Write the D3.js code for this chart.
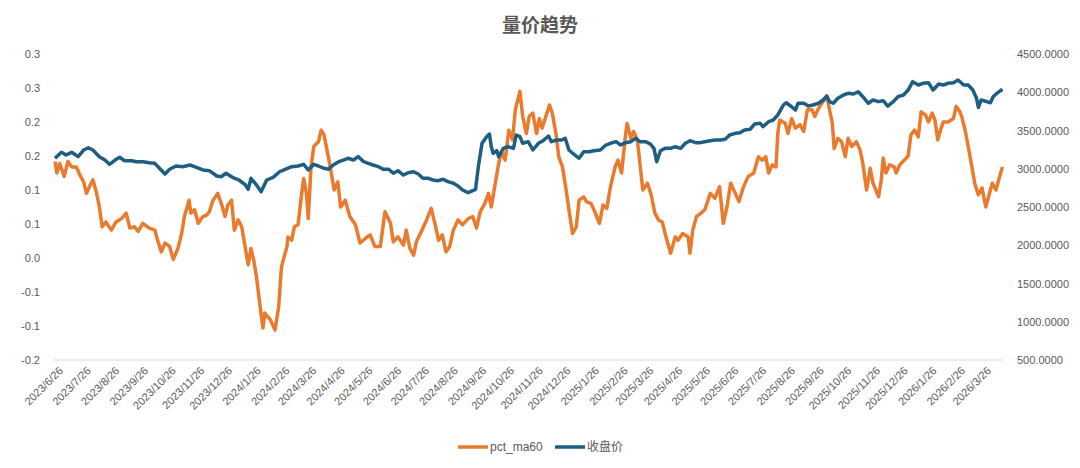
<!DOCTYPE html>
<html>
<head>
<meta charset="utf-8">
<script src="https://cdn.jsdelivr.net/npm/d3@7"></script>
<style>
  body { margin: 0; background: #fff; }
  text { font-family: "Liberation Sans", "Noto Sans CJK SC", sans-serif; fill: #595959; }
</style>
</head>
<body>
<div id="chart"></div>
<script>
// pct_ma60 (left axis)
const pctDates = [
  "2023-06-26","2023-06-28","2023-07-01","2023-07-06","2023-07-10","2023-07-14","2023-07-19","2023-07-23","2023-07-27","2023-07-30",
  "2023-08-03","2023-08-06","2023-08-10","2023-08-13","2023-08-16","2023-08-20","2023-08-26","2023-08-31","2023-09-06","2023-09-11",
  "2023-09-15","2023-09-20","2023-09-24","2023-09-29","2023-10-06","2023-10-12","2023-10-15","2023-10-19","2023-10-23","2023-10-28",
  "2023-11-01","2023-11-06","2023-11-10","2023-11-13","2023-11-18","2023-11-20","2023-11-24","2023-11-28","2023-12-03","2023-12-07",
  "2023-12-10","2023-12-14","2023-12-19","2023-12-23","2023-12-27","2023-12-30","2024-01-03","2024-01-06","2024-01-10","2024-01-14",
  "2024-01-17","2024-01-21","2024-01-24","2024-01-27","2024-01-30","2024-02-03","2024-02-06","2024-02-08","2024-02-14","2024-02-19",
  "2024-02-23","2024-02-26","2024-03-03","2024-03-04","2024-03-08","2024-03-11","2024-03-15","2024-03-18","2024-03-21","2024-03-24",
  "2024-03-26","2024-03-29","2024-04-01","2024-04-06","2024-04-09","2024-04-12","2024-04-16","2024-04-19","2024-04-23","2024-04-27",
  "2024-04-30","2024-05-05","2024-05-10","2024-05-16","2024-05-21","2024-05-27","2024-06-01","2024-06-06","2024-06-12","2024-06-17",
  "2024-06-23","2024-06-26","2024-07-01","2024-07-07","2024-07-10","2024-07-14","2024-07-18","2024-07-21","2024-07-27","2024-08-01",
  "2024-08-06","2024-08-10","2024-08-14","2024-08-18","2024-08-22","2024-08-26","2024-08-30","2024-09-04","2024-09-09","2024-09-15",
  "2024-09-20","2024-09-24","2024-09-28","2024-10-03","2024-10-07","2024-10-10","2024-10-14","2024-10-18","2024-10-21","2024-10-25",
  "2024-10-29","2024-11-02","2024-11-05","2024-11-10","2024-11-13","2024-11-17","2024-11-20","2024-11-24","2024-11-28","2024-12-01",
  "2024-12-04","2024-12-08","2024-12-12","2024-12-15","2024-12-19","2024-12-22","2024-12-26","2024-12-30","2025-01-02","2025-01-06",
  "2025-01-10","2025-01-13","2025-01-18","2025-01-21","2025-01-26","2025-01-30","2025-02-04","2025-02-08","2025-02-12","2025-02-16",
  "2025-02-21","2025-02-24","2025-02-28","2025-03-04","2025-03-06","2025-03-10","2025-03-13","2025-03-17","2025-03-20","2025-03-23",
  "2025-03-28","2025-04-01","2025-04-05","2025-04-09","2025-04-13","2025-04-18","2025-04-22","2025-04-27","2025-04-30","2025-05-05",
  "2025-05-11","2025-05-13","2025-05-16","2025-05-20","2025-05-25","2025-05-29","2025-06-04","2025-06-09","2025-06-14","2025-06-18",
  "2025-06-22","2025-06-26","2025-07-01","2025-07-05","2025-07-10","2025-07-15","2025-07-21","2025-07-26","2025-07-30","2025-08-03",
  "2025-08-06","2025-08-10","2025-08-14","2025-08-16","2025-08-18","2025-08-24","2025-08-27","2025-08-31","2025-09-04","2025-09-09",
  "2025-09-13","2025-09-17","2025-09-22","2025-09-25","2025-09-29","2025-10-04","2025-10-08","2025-10-11","2025-10-14","2025-10-16",
  "2025-10-20","2025-10-24","2025-10-28","2025-10-31","2025-11-04","2025-11-09","2025-11-13","2025-11-16","2025-11-20","2025-11-24",
  "2025-11-27","2025-12-03","2025-12-06","2025-12-08","2025-12-11","2025-12-15","2025-12-20","2025-12-22","2025-12-26","2025-12-31",
  "2026-01-04","2026-01-07","2026-01-11","2026-01-15","2026-01-18","2026-01-23","2026-01-26","2026-01-30","2026-02-02","2026-02-05",
  "2026-02-08","2026-02-11","2026-02-16","2026-02-22","2026-02-25","2026-03-01","2026-03-03","2026-03-07","2026-03-10","2026-03-14",
  "2026-03-17","2026-03-21","2026-03-25","2026-03-29","2026-04-01","2026-04-05","2026-04-09","2026-04-12","2026-04-16"
];
const pctValues = [
  0.142,0.125,0.139,0.120,0.142,0.134,0.134,0.122,0.112,0.095,
  0.107,0.115,0.095,0.075,0.046,0.053,0.041,0.053,0.058,0.066,
  0.044,0.046,0.039,0.051,0.044,0.041,0.026,0.009,0.022,0.017,
  -0.002,0.014,0.036,0.061,0.085,0.066,0.071,0.051,0.061,0.063,
  0.068,0.085,0.095,0.080,0.061,0.078,0.085,0.041,0.056,0.046,
  0.022,-0.010,0.014,-0.003,-0.028,-0.072,-0.103,-0.081,-0.091,-0.106,
  -0.072,-0.013,0.017,0.031,0.026,0.046,0.049,0.085,0.117,0.095,
  0.058,0.134,0.164,0.171,0.188,0.181,0.154,0.132,0.100,0.112,
  0.075,0.085,0.061,0.049,0.022,0.029,0.034,0.017,0.017,0.068,
  0.051,0.024,0.031,0.019,0.041,0.014,0.004,0.024,0.041,0.056,
  0.073,0.051,0.026,0.034,0.009,0.017,0.041,0.056,0.049,0.058,
  0.061,0.044,0.068,0.080,0.095,0.075,0.107,0.139,0.156,0.144,
  0.188,0.174,0.218,0.245,0.208,0.183,0.208,0.213,0.183,0.205,
  0.191,0.208,0.225,0.213,0.183,0.149,0.134,0.100,0.071,0.036,
  0.046,0.085,0.090,0.083,0.080,0.068,0.051,0.078,0.073,0.105,
  0.134,0.144,0.125,0.178,0.198,0.176,0.186,0.174,0.137,0.100,
  0.110,0.093,0.066,0.056,0.053,0.026,0.007,0.031,0.026,0.036,
  0.031,0.007,0.041,0.061,0.066,0.071,0.095,0.088,0.105,0.051,
  0.075,0.110,0.095,0.083,0.105,0.120,0.125,0.149,0.144,0.149,
  0.125,0.137,0.134,0.183,0.203,0.198,0.183,0.205,0.191,0.196,
  0.186,0.218,0.218,0.208,0.220,0.230,0.238,0.218,0.198,0.161,
  0.176,0.171,0.149,0.176,0.164,0.171,0.159,0.139,0.100,0.132,
  0.110,0.090,0.115,0.147,0.125,0.137,0.134,0.125,0.137,0.144,
  0.150,0.181,0.188,0.178,0.215,0.210,0.200,0.213,0.203,0.174,
  0.188,0.200,0.200,0.205,0.223,0.215,0.208,0.186,0.164,0.134,
  0.110,0.093,0.103,0.075,0.090,0.110,0.100,0.115,0.134
];

// 收盘价 (right axis)
const closeDates = [
  "2023-06-26","2023-07-03","2023-07-08","2023-07-14","2023-07-21","2023-07-27","2023-08-01","2023-08-06","2023-08-13","2023-08-19",
  "2023-08-24","2023-08-30","2023-09-04","2023-09-09","2023-09-17","2023-09-22","2023-09-29","2023-10-06","2023-10-12","2023-10-17",
  "2023-10-23","2023-10-28","2023-11-04","2023-11-11","2023-11-19","2023-11-26","2023-12-03","2023-12-10","2023-12-18","2023-12-23",
  "2023-12-28","2024-01-04","2024-01-11","2024-01-18","2024-01-21","2024-01-24","2024-01-30","2024-02-04","2024-02-10","2024-02-17",
  "2024-02-24","2024-03-01","2024-03-08","2024-03-15","2024-03-21","2024-03-26","2024-04-01","2024-04-06","2024-04-12","2024-04-17",
  "2024-04-22","2024-04-28","2024-05-03","2024-05-08","2024-05-14","2024-05-19","2024-05-25","2024-05-30","2024-06-04","2024-06-10",
  "2024-06-15","2024-06-21","2024-06-26","2024-07-01","2024-07-07","2024-07-12","2024-07-18","2024-07-23","2024-07-28","2024-08-03",
  "2024-08-08","2024-08-13","2024-08-19","2024-08-24","2024-08-30","2024-09-04","2024-09-09","2024-09-15","2024-09-20","2024-09-23",
  "2024-09-26","2024-09-30","2024-10-05","2024-10-08","2024-10-10","2024-10-12","2024-10-16","2024-10-18","2024-10-23","2024-10-28",
  "2024-11-03","2024-11-06","2024-11-10","2024-11-13","2024-11-19","2024-11-24","2024-11-30","2024-12-05","2024-12-11","2024-12-14",
  "2024-12-20","2024-12-25","2024-12-29","2025-01-02","2025-01-07","2025-01-13","2025-01-18","2025-01-24","2025-01-29","2025-02-05",
  "2025-02-11","2025-02-16","2025-02-22","2025-02-27","2025-03-04","2025-03-10","2025-03-15","2025-03-20","2025-03-26","2025-03-31",
  "2025-04-04","2025-04-07","2025-04-11","2025-04-16","2025-04-22","2025-04-27","2025-05-03","2025-05-08","2025-05-13","2025-05-19",
  "2025-05-24","2025-05-29","2025-06-04","2025-06-09","2025-06-15","2025-06-20","2025-06-25","2025-07-01","2025-07-06","2025-07-11",
  "2025-07-17","2025-07-22","2025-07-28","2025-07-31","2025-08-06","2025-08-11","2025-08-16","2025-08-22","2025-08-25","2025-08-31",
  "2025-09-04","2025-09-07","2025-09-13","2025-09-18","2025-09-23","2025-09-29","2025-10-04","2025-10-08","2025-10-11","2025-10-15",
  "2025-10-20","2025-10-26","2025-10-31","2025-11-06","2025-11-11","2025-11-16","2025-11-22","2025-11-27","2025-12-03","2025-12-08",
  "2025-12-13","2025-12-19","2025-12-24","2025-12-30","2026-01-04","2026-01-09","2026-01-15","2026-01-20","2026-01-26","2026-01-31",
  "2026-02-06","2026-02-11","2026-02-16","2026-02-22","2026-02-27","2026-03-05","2026-03-10","2026-03-15","2026-03-19","2026-03-21",
  "2026-03-24","2026-03-30","2026-04-03","2026-04-06","2026-04-10","2026-04-16"
];
const closeValues = [
  3137,3215,3180,3215,3158,3245,3275,3245,3158,3114,
  3058,3114,3150,3105,3105,3092,3092,3079,3071,3006,
  2931,2993,3036,3027,3049,3019,2984,2975,2905,2896,
  2941,2888,2853,2788,2731,2875,2788,2700,2853,2888,
  2961,2993,3027,3036,3058,2984,3058,3036,3006,2993,
  3049,3092,3114,3137,3114,3158,3092,3071,3049,3027,
  2993,2993,2941,2975,2918,2948,2961,2931,2875,2875,
  2853,2844,2862,2831,2810,2775,2722,2687,2713,2731,
  3027,3333,3419,3454,3288,3202,3236,3158,3267,3288,
  3267,3441,3420,3333,3354,3245,3333,3367,3428,3354,
  3376,3376,3398,3245,3193,3137,3223,3223,3236,3245,
  3310,3333,3354,3310,3341,3354,3398,3354,3354,3324,
  3267,3092,3236,3267,3267,3288,3267,3333,3367,3341,
  3341,3354,3367,3376,3376,3385,3441,3463,3471,3507,
  3516,3585,3594,3550,3615,3637,3703,3833,3863,3811,
  3768,3856,3856,3820,3833,3856,3899,3951,3877,3856,
  3921,3964,3986,3977,4007,3942,3856,3899,3877,3890,
  3820,3877,3942,3964,4029,4138,4095,4117,4125,4029,
  4108,4095,4117,4125,4160,4095,4095,4029,3921,3803,
  3899,3877,3863,3942,3986,4039
];

// axis ticks
const leftTicks = [-0.15, -0.1, -0.05, 0, 0.05, 0.1, 0.15, 0.2, 0.25, 0.3];
const rightTicks = [500, 1000, 1500, 2000, 2500, 3000, 3500, 4000, 4500];
const monthTicks = [
  "2023-06-26","2023-07-26","2023-08-26","2023-09-26","2023-10-26","2023-11-26","2023-12-26",
  "2024-01-26","2024-02-26","2024-03-26","2024-04-26","2024-05-26","2024-06-26","2024-07-26",
  "2024-08-26","2024-09-26","2024-10-26","2024-11-26","2024-12-26","2025-01-26","2025-02-26",
  "2025-03-26","2025-04-26","2025-05-26","2025-06-26","2025-07-26","2025-08-26","2025-09-26",
  "2025-10-26","2025-11-26","2025-12-26","2026-01-26","2026-02-26","2026-03-26"
];

const width = 1080;
const height = 468;
const margin = { top: 54, right: 77, bottom: 108, left: 53 };
const parse = d3.timeParse("%Y-%m-%d");

const svg = d3.select("#chart")
  .append("svg")
  .attr("width", width)
  .attr("height", height);

const x = d3.scaleTime()
  .domain([parse(monthTicks[0]), parse(monthTicks[monthTicks.length - 1])])
  .range([55, 983]);

const yLeft = d3.scaleLinear()
  .domain([-0.15, 0.3])
  .range([height - margin.bottom, margin.top]);

const yRight = d3.scaleLinear()
  .domain([500, 4500])
  .range([height - margin.bottom, margin.top]);

// Excel style rounding (half away from zero)
const fmtLeft = v => {
  const r = Math.round(Math.abs(v) * 10 + 1e-9) / 10;
  return (v < 0 && r !== 0 ? "-" : "") + r.toFixed(1);
};

// Title
svg.append("text")
  .attr("x", width / 2)
  .attr("y", 32)
  .attr("text-anchor", "middle")
  .style("font-family", "'Noto Sans CJK SC', sans-serif")
  .style("font-size", "19px")
  .style("font-weight", "bold")
  .text("量价趋势");

// Left axis
const gl = svg.append("g")
  .attr("transform", `translate(${margin.left},0)`)
  .call(d3.axisLeft(yLeft).tickValues(leftTicks).tickFormat(fmtLeft).tickSize(0).tickPadding(13));
gl.select(".domain").remove();
gl.selectAll("text").style("font-size", "11px").style("fill", "#595959");

// Right axis
const gr = svg.append("g")
  .attr("transform", `translate(${width - margin.right},0)`)
  .call(d3.axisRight(yRight).tickValues(rightTicks).tickFormat(d3.format(".4f")).tickSize(0).tickPadding(14));
gr.select(".domain").remove();
gr.selectAll("text").style("font-size", "11px").style("fill", "#595959");

// Bottom axis
svg.append("line")
  .attr("x1", margin.left)
  .attr("x2", width - margin.right)
  .attr("y1", height - margin.bottom)
  .attr("y2", height - margin.bottom)
  .attr("stroke", "#d9d9d9")
  .attr("stroke-width", 1);

const gx = svg.append("g")
  .attr("transform", `translate(0,${height - margin.bottom})`)
  .call(d3.axisBottom(x).tickValues(monthTicks.map(parse)).tickFormat(d3.timeFormat("%Y/%-m/%-d")).tickSize(0).tickPadding(0));
gx.select(".domain").remove();
gx.selectAll("text")
  .style("font-size", "11px")
  .style("fill", "#595959")
  .attr("text-anchor", "end")
  .attr("dx", "-0.2em")
  .attr("dy", "0.9em")
  .attr("y", 4)
  .attr("transform", "rotate(-45)");

// Lines
const pctData = pctDates.map((d, i) => ({ date: parse(d), value: pctValues[i] }));
const closeData = closeDates.map((d, i) => ({ date: parse(d), value: closeValues[i] }));

svg.append("path")
  .datum(pctData)
  .attr("fill", "none")
  .attr("stroke", "#E97A2E")
  .attr("stroke-width", 3.5)
  .attr("stroke-linejoin", "round")
  .attr("d", d3.line().x(d => x(d.date)).y(d => yLeft(d.value)));

svg.append("path")
  .datum(closeData)
  .attr("fill", "none")
  .attr("stroke", "#1D5E82")
  .attr("stroke-width", 3.5)
  .attr("stroke-linejoin", "round")
  .attr("d", d3.line().x(d => x(d.date)).y(d => yRight(d.value)));

// Legend
const legend = [
  { name: "pct_ma60", color: "#E97A2E", x: 458 },
  { name: "收盘价", color: "#1D5E82", x: 555 }
];
const lg = svg.append("g").attr("transform", "translate(0,447)");
legend.forEach(l => {
  lg.append("line")
    .attr("x1", l.x).attr("x2", l.x + 30)
    .attr("y1", 0).attr("y2", 0)
    .attr("stroke", l.color)
    .attr("stroke-width", 3.5);
  lg.append("text")
    .attr("x", l.x + 32)
    .attr("y", 4)
    .style("font-size", "12px")
    .text(l.name);
});
</script>
</body>
</html>
